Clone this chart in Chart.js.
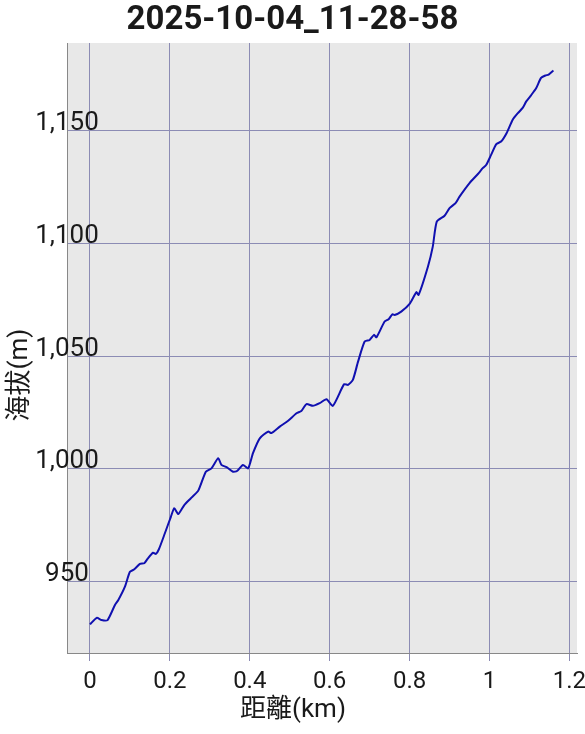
<!DOCTYPE html>
<html>
<head>
<meta charset="utf-8">
<script src="https://cdn.jsdelivr.net/npm/chart.js@4"></script>
<style>
  body { margin: 0; background: #fff; }
</style>
</head>
<body>
<canvas id="chart" width="585" height="734"></canvas>
<script>
var chartTitle = "2025-10-04_11-28-58";
var xAxisTitle = "距離(km)";
var yAxisTitle = "海拔(m)";

// distance (km) and elevation (m)
var distances = [
    0, 0.017, 0.029, 0.044, 0.0625, 0.071, 0.0875, 0.1, 0.111, 0.125,
    0.136, 0.144, 0.158, 0.165, 0.1725, 0.1875, 0.2025, 0.211, 0.221, 0.236,
    0.2525, 0.271, 0.29, 0.304, 0.321, 0.329, 0.342, 0.358, 0.368, 0.383,
    0.396, 0.408, 0.425, 0.446, 0.454, 0.475, 0.496, 0.517, 0.529, 0.542,
    0.558, 0.575, 0.592, 0.608, 0.636, 0.646, 0.658, 0.671, 0.6875, 0.7,
    0.711, 0.717, 0.7375, 0.7475, 0.757, 0.7625, 0.779, 0.8, 0.817, 0.8225,
    0.846, 0.858, 0.868, 0.8875, 0.9, 0.915, 0.925, 0.95, 0.971, 0.983,
    0.992, 1.004, 1.017, 1.029, 1.043, 1.058, 1.071, 1.083, 1.092, 1.104,
    1.117, 1.129, 1.14, 1.148, 1.16
];
var elevations = [
    931.1, 934.0, 933.0, 933.0, 939.7, 941.9, 947.8, 954.4, 955.5, 957.9,
    958.2, 960.1, 962.9, 962.3, 964.4, 971.5, 978.8, 982.6, 980.0, 984.0,
    987.0, 990.4, 998.8, 1000.3, 1004.8, 1001.8, 1000.8, 998.8, 999.1, 1001.8,
    1000.3, 1007.0, 1013.6, 1016.6, 1015.9, 1018.8, 1021.4, 1024.7, 1025.7, 1028.8,
    1028.0, 1029.2, 1030.9, 1028.0, 1037.6, 1037.3, 1039.5, 1047.6, 1056.5, 1057.2,
    1059.5, 1058.4, 1065.4, 1066.4, 1068.6, 1068.3, 1069.8, 1073.2, 1078.4, 1077.2,
    1089.8, 1098.6, 1109.7, 1112.3, 1115.7, 1117.9, 1120.8, 1126.8, 1130.8, 1133.4,
    1134.9, 1139.3, 1144.1, 1145.2, 1149.0, 1154.9, 1157.8, 1160.1, 1163.0, 1165.7,
    1168.9, 1173.4, 1174.5, 1174.9, 1176.7
];

var xTicks = [0, 0.2, 0.4, 0.6, 0.8, 1, 1.2];
var xTickLabels = ["0", "0.2", "0.4", "0.6", "0.8", "1", "1.2"];
var yTicks = [950, 1000, 1050, 1100, 1150];
var yTickLabels = ["950", "1,000", "1,050", "1,100", "1,150"];

var gridColor = "#8c8cb4";
var yLabelFont = "26px Roboto";

// y labels sit centred on the left border, so find the widest one first
var mctx = document.createElement("canvas").getContext("2d");
mctx.font = yLabelFont;
var widest = 0;
yTickLabels.forEach(function(t) {
    widest = Math.max(widest, mctx.measureText(t).width);
});

var points = distances.map(function(d, i) {
    return { x: d, y: elevations[i] };
});

var plotBackground = {
    id: "plotBackground",
    beforeDraw: function(chart) {
        var a = chart.chartArea;
        var c = chart.ctx;
        c.save();
        c.fillStyle = "#e8e8e8";
        c.fillRect(a.left, a.top, a.right - a.left, a.bottom - a.top);
        c.restore();
    }
};

var axisTitles = {
    id: "axisTitles",
    afterDraw: function(chart) {
        var c = chart.ctx;
        c.save();
        c.fillStyle = "#1a1a1a";
        c.font = '26px Roboto, "Noto Sans CJK TC"';
        c.textAlign = "center";
        c.textBaseline = "middle";
        c.fillText(xAxisTitle, 293, 710);
        c.translate(20, 375);
        c.rotate(-Math.PI / 2);
        c.fillText(yAxisTitle, 0, 0);
        c.restore();
    }
};

var ctx = document.getElementById("chart").getContext("2d");
var chart = new Chart(ctx, {
    type: "line",
    data: {
        datasets: [{
            data: points,
            borderColor: "#1010b0",
            borderWidth: 2,
            pointRadius: 0,
            tension: 0.2,
            fill: false
        }]
    },
    options: {
        responsive: false,
        animation: false,
        devicePixelRatio: 1,
        layout: { padding: 0 },
        plugins: {
            legend: { display: false },
            tooltip: { enabled: false },
            title: {
                display: true,
                text: chartTitle,
                color: "#1a1a1a",
                font: { family: "Roboto", size: 33, weight: "bold", lineHeight: 1 },
                padding: { top: 4, bottom: 6 }
            }
        },
        scales: {
            x: {
                type: "linear",
                min: -0.0575,
                max: 1.219,
                afterBuildTicks: function(scale) {
                    scale.ticks = xTicks.map(function(v) { return { value: v }; });
                },
                afterFit: function(scale) {
                    scale.height = 81;
                    scale.paddingLeft = 0;
                    // leaves 8px on the right, "1.2" runs off the edge
                    scale.paddingRight = 8;
                },
                grid: {
                    color: gridColor,
                    tickColor: gridColor,
                    tickLength: 8,
                    lineWidth: 1
                },
                border: { display: true, color: "#888888", width: 1 },
                ticks: {
                    autoSkip: false,
                    maxRotation: 0,
                    padding: 7,
                    color: "#1a1a1a",
                    font: { family: "Roboto", size: 24 },
                    callback: function(value) {
                        var i = xTicks.indexOf(value);
                        return i >= 0 ? xTickLabels[i] : "";
                    }
                }
            },
            y: {
                type: "linear",
                min: 918.4,
                max: 1188.9,
                afterBuildTicks: function(scale) {
                    scale.ticks = yTicks.map(function(v) { return { value: v }; });
                },
                afterFit: function(scale) {
                    scale.width = 67;
                },
                grid: {
                    color: gridColor,
                    drawTicks: false,
                    lineWidth: 1
                },
                border: { display: true, color: "#888888", width: 1 },
                ticks: {
                    mirror: true,
                    crossAlign: "center",
                    padding: -widest / 2,
                    labelOffset: -7,
                    color: "#1a1a1a",
                    font: { family: "Roboto", size: 26 },
                    callback: function(value) {
                        var i = yTicks.indexOf(value);
                        return i >= 0 ? yTickLabels[i] : "";
                    }
                }
            }
        }
    },
    plugins: [plotBackground, axisTitles]
});
</script>
</body>
</html>
